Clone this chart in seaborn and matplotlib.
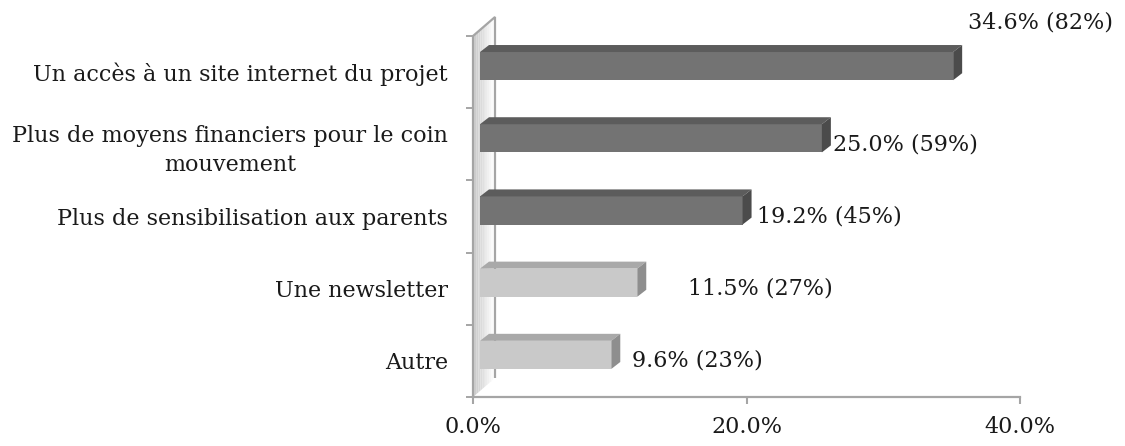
import matplotlib
matplotlib.use("Agg")
import matplotlib.pyplot as plt
import seaborn as sns
import pandas as pd
import numpy as np
from matplotlib.patches import Polygon
from matplotlib.transforms import IdentityTransform, ScaledTranslation

# ---- data ----
categories = [
    "Un accès à un site internet du projet",
    "Plus de moyens financiers pour le coin\nmouvement",
    "Plus de sensibilisation aux parents",
    "Une newsletter",
    "Autre",
]
percent = [34.6, 25.0, 19.2, 11.5, 9.6]
share = [82, 59, 45, 27, 23]
group = ["dark", "dark", "dark", "light", "light"]
xticks = [0, 20, 40]
xtick_labels = ["0.0%", "20.0%", "40.0%"]

# ---- style / layout ----
DPI = 100
W, H = 1125, 446
front_col = {"dark": "#737373", "light": "#c9c9c9"}
top_col = {"dark": "#5c5c5c", "light": "#a9a9a9"}
side_col = {"dark": "#4b4b4b", "light": "#8e8e8e"}
grey = "#a5a5a5"
txt = "#1a1a1a"
FS = 16
label_offsets_px = [(22, 50), (18, 0), (21, 0), (58, 0), (28, 0)]
depth_dx, depth_dy = 9, 7          # bar 3D depth (px)
bar_shift = (7, 6)                  # bars drawn slightly behind the axis plane (px)
wall_dx, wall_dy = 22, 19           # wall depth (px)

df = pd.DataFrame({"category": categories, "percent": percent, "group": group})

sns.set_style("white")
plt.rcParams["font.family"] = ["DejaVu Serif", "Liberation Serif"]

fig = plt.figure(figsize=(W / DPI, H / DPI), dpi=DPI)
ax = fig.add_axes([473 / W, (H - 397) / H, (1020 - 473) / W, (397 - 36) / H])
ax.patch.set_alpha(0)

sns.barplot(data=df, x="percent", y="category", hue="group", palette=front_col,
            dodge=False, width=0.39, saturation=1, legend=False, ax=ax,
            orient="h", linewidth=0, zorder=3)

ax.set_xlim(0, 40)
ax.set_ylim(len(categories) - 0.5, -0.5)

# ---- wall (left 3D plane) ----
x0, yb = ax.transAxes.transform((0, 0))
_, yt = ax.transAxes.transform((0, 1))
n_strips = 12
shades = np.linspace(0.78, 1.0, n_strips)
for k in range(n_strips):
    a, b = k / n_strips, (k + 1) / n_strips
    pts = [(x0 + a * wall_dx, yb + a * wall_dy), (x0 + b * wall_dx, yb + b * wall_dy),
           (x0 + b * wall_dx, yt + b * wall_dy), (x0 + a * wall_dx, yt + a * wall_dy)]
    ax.add_patch(Polygon(pts, closed=True, facecolor=str(shades[k]), edgecolor="none",
                         transform=IdentityTransform(), clip_on=False, zorder=1))
outline = [(x0, yb), (x0, yt), (x0 + wall_dx, yt + wall_dy),
           (x0 + wall_dx, yb + wall_dy), (x0, yb)]
ax.add_patch(Polygon(outline, closed=False, facecolor="none", edgecolor=grey, lw=1.6,
                     transform=IdentityTransform(), clip_on=False, zorder=2))

# ---- 3D bar faces ----
shift = ScaledTranslation(bar_shift[0] / DPI, bar_shift[1] / DPI, fig.dpi_scale_trans)
for p in ax.patches:
    if not hasattr(p, "get_width") or p.get_width() <= 0 or p.get_height() > 1:
        continue
    yc = p.get_y() + p.get_height() / 2
    idx = int(round(yc))
    g = group[idx]
    p.set_transform(ax.transData + shift)
    (lx, y1) = ax.transData.transform((p.get_x(), p.get_y()))
    (rx, y2) = ax.transData.transform((p.get_x() + p.get_width(), p.get_y() + p.get_height()))
    T, B = max(y1, y2) + bar_shift[1], min(y1, y2) + bar_shift[1]
    L, R = lx + bar_shift[0], rx + bar_shift[0]
    top = [(L, T), (R, T), (R + depth_dx, T + depth_dy), (L + depth_dx, T + depth_dy)]
    side = [(R, B), (R, T), (R + depth_dx, T + depth_dy), (R + depth_dx, B + depth_dy)]
    ax.add_patch(Polygon(top, closed=True, facecolor=top_col[g], edgecolor="none",
                         transform=IdentityTransform(), clip_on=False, zorder=3))
    ax.add_patch(Polygon(side, closed=True, facecolor=side_col[g], edgecolor="none",
                         transform=IdentityTransform(), clip_on=False, zorder=3))

# ---- value labels ----
for i, (v, s) in enumerate(zip(percent, share)):
    dx, dy = label_offsets_px[i]
    ax.annotate(f"{v:.1f}% ({s}%)", xy=(v, i), xytext=(dx * 0.72, dy * 0.72),
                textcoords="offset points", ha="left", va="center",
                fontsize=FS, color=txt, annotation_clip=False)

# ---- axes styling ----
ax.set_xlabel("")
ax.set_ylabel("")
ax.set_xticks(xticks)
ax.set_xticklabels(xtick_labels)
ax.set_yticks(range(len(categories)))
ax.set_yticklabels(categories, multialignment="center", linespacing=1.45)
ax.set_yticks(np.arange(-0.5, len(categories), 1.0), minor=True)
ax.tick_params(axis="y", which="major", length=0, pad=18, labelsize=FS, labelcolor=txt)
ax.tick_params(axis="y", which="minor", length=5, width=1.4, color=grey, direction="out", left=True)
ax.tick_params(axis="x", which="major", length=5, width=1.5, color=grey, direction="out",
               pad=9, labelsize=FS, labelcolor=txt, bottom=True)
for sp in ["top", "right", "left"]:
    ax.spines[sp].set_visible(False)
ax.spines["bottom"].set_color(grey)
ax.spines["bottom"].set_linewidth(1.6)
ax.grid(False)

fig.savefig("out.png", dpi=DPI)
